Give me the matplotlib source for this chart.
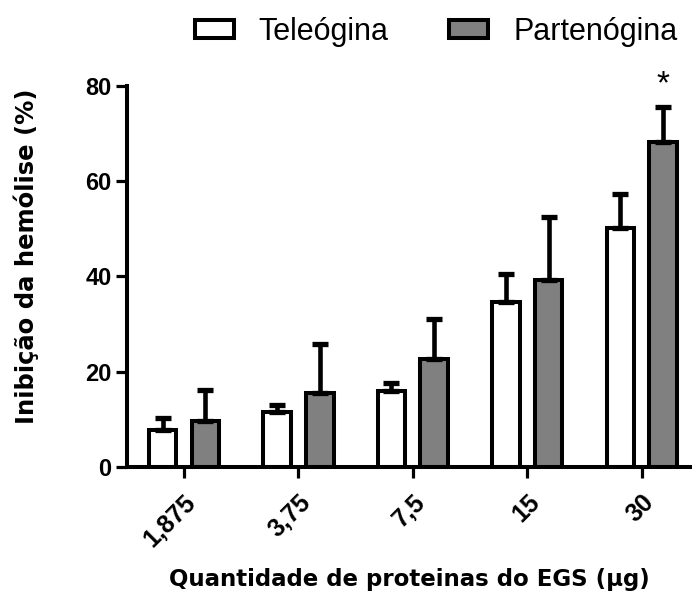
import numpy as np
import matplotlib.pyplot as plt

plt.rcParams['font.family'] = ['Liberation Sans', 'DejaVu Sans']

doses = ["1,875", "3,75", "7,5", "15", "30"]
tel = [7.7, 11.4, 15.9, 34.7, 50.1]
tel_err = [2.5, 1.6, 1.6, 5.7, 7.1]
part = [9.7, 15.4, 22.6, 39.2, 68.3]
part_err = [6.4, 10.3, 8.4, 13.3, 7.2]

fig = plt.figure(figsize=(6.92, 5.95), dpi=100)
ax = fig.add_axes([0.1831, 0.2156, 0.817, 0.6399])

x = np.arange(len(doses))
bar_width = 0.24
off = 0.187
lw = 2.9
ekw = dict(elinewidth=3.3, capsize=5.8, capthick=3.8, ecolor="black")
zeros = np.zeros(len(doses))

ax.bar(x - off, tel, bar_width, color="white", edgecolor="black", linewidth=lw,
       yerr=[zeros, tel_err], error_kw=ekw, label="Teleógina")
ax.bar(x + off, part, bar_width, color="#808080", edgecolor="black", linewidth=lw,
       yerr=[zeros, part_err], error_kw=ekw, label="Partenógina")

# significance mark over the last group
ax.annotate("*", xy=(x[4] + off, part[4] + part_err[4]), xytext=(0, 10),
            textcoords="offset points", ha="center", va="baseline",
            fontsize=24, annotation_clip=False)

ax.set_xlim(-0.5, 4.44)
ax.set_ylim(0, 80)
ax.set_yticks([0, 20, 40, 60, 80])
ax.set_xticks(x, doses, rotation=45, ha="right", rotation_mode="anchor")

for s in ["top", "right"]:
    ax.spines[s].set_visible(False)
for s in ["left", "bottom"]:
    ax.spines[s].set_linewidth(2.9)
    ax.spines[s].set_capstyle("projecting")

ax.tick_params(axis="both", length=8, width=2.3, labelsize=17)
ax.tick_params(axis="y", pad=3)
ax.tick_params(axis="x", pad=9, labelsize=18)
for t in ax.get_xticklabels() + ax.get_yticklabels():
    t.set_fontweight("bold")

ax.set_ylabel("Inibição da hemólise (%)", fontfamily="DejaVu Sans",
              fontweight="bold", fontsize=17.5)
ax.yaxis.set_label_coords(-0.156, 0.553)
ax.set_xlabel("Quantidade de proteinas do EGS (µg)", fontfamily="DejaVu Sans",
              fontweight="bold", fontsize=16.5)
ax.xaxis.set_label_coords(0.5, -0.267)

fig.legend(loc="center", bbox_to_anchor=(0.630, 0.947), ncol=2, frameon=False,
           prop=dict(family="Liberation Sans", size=22), handlelength=1.28,
           handleheight=0.55, handletextpad=0.82, columnspacing=1.97, borderpad=0)

fig.savefig("out.png", dpi=100)
